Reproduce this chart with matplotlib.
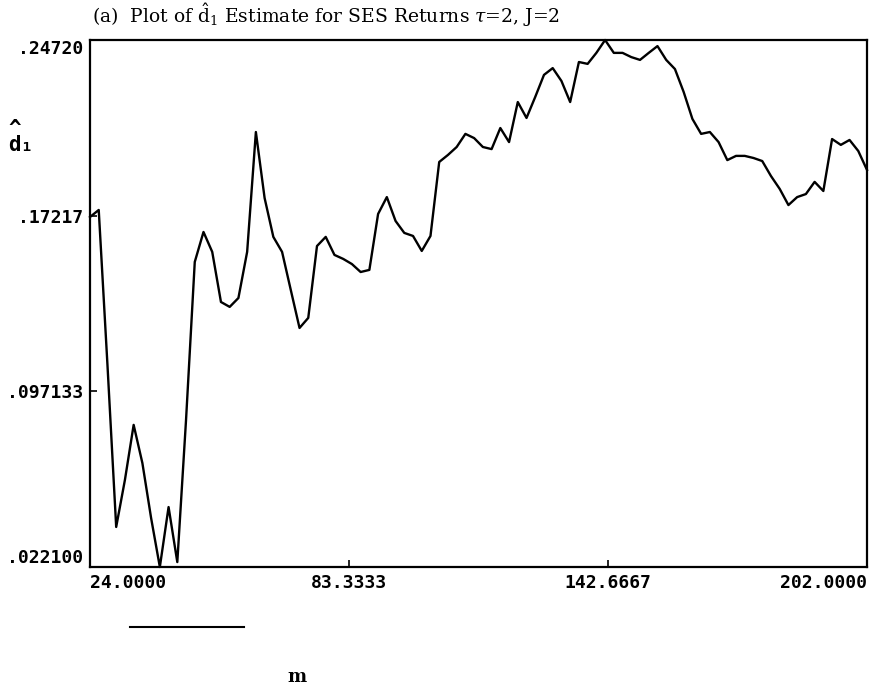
import numpy as np
import matplotlib.pyplot as plt
from matplotlib.lines import Line2D

plt.rcParams['mathtext.fontset'] = 'dejavuserif'

# bandwidth m runs from 24 to 202 in steps of 2
m = np.arange(24, 203, 2)
d1_hat = [
    0.1716, 0.1746, 0.1084, 0.0392, 0.0593, 0.0828, 0.0665, 0.0430, 0.0221, 0.0477,
    0.0242, 0.0849, 0.1524, 0.1652, 0.1567, 0.1353, 0.1332, 0.1370, 0.1567, 0.2079,
    0.1797, 0.1631, 0.1567, 0.1404, 0.1242, 0.1285, 0.1592, 0.1631, 0.1554, 0.1537,
    0.1515, 0.1481, 0.1490, 0.1729, 0.1801, 0.1699, 0.1648, 0.1635, 0.1571, 0.1635,
    0.1951, 0.1981, 0.2015, 0.2071, 0.2053, 0.2015, 0.2006, 0.2096, 0.2036, 0.2207,
    0.2139, 0.2229, 0.2323, 0.2352, 0.2297, 0.2207, 0.2378, 0.2370, 0.2417, 0.2472,
    0.2417, 0.2417, 0.2399, 0.2387, 0.2417, 0.2446, 0.2387, 0.2348, 0.2250, 0.2135,
    0.2071, 0.2079, 0.2036, 0.1959, 0.1977, 0.1977, 0.1968, 0.1955, 0.1891, 0.1836,
    0.1767, 0.1801, 0.1814, 0.1866, 0.1827, 0.2049, 0.2024, 0.2045, 0.1998, 0.1917,
]

xticks = [24.0, 83.3333, 142.6667, 202.0]
xlabels = ['24.0000', '83.3333', '142.6667', '202.0000']
yticks = [0.022100, 0.097133, 0.17217, 0.24720]
ylabels = ['.022100', '.097133', '.17217', '.24720']

fig = plt.figure(figsize=(8.71, 6.9), dpi=100)
ax = fig.add_axes([90 / 871, 123 / 690, 777 / 871, 527 / 690])

ax.plot(m, d1_hat, color='black', linewidth=1.7, clip_on=False)
ax.set_xlim(24, 202)
ax.set_ylim(0.0221, 0.2472)

for s in ax.spines.values():
    s.set_linewidth(1.6)

mono = {'family': 'DejaVu Sans Mono', 'weight': 'bold', 'size': 13}
ax.set_xticks(xticks)
ax.set_xticklabels(xlabels, fontdict=mono)
ax.set_yticks(yticks)
ax.set_yticklabels(ylabels, fontdict=mono)
ax.tick_params(direction='in', length=5, width=1.2, pad=5)

# keep end labels inside the frame like the original printout
xt = ax.get_xticklabels()
xt[0].set_ha('left')
xt[-1].set_ha('right')
yt = ax.get_yticklabels()
yt[0].set_va('bottom')
yt[-1].set_va('top')

fig.text(92 / 871, 1 - 15 / 690,
         r'(a)  Plot of $\hat{\mathrm{d}}_1$ Estimate for SES Returns $\tau$=2, J=2',
         family='DejaVu Serif', fontsize=13.5, va='center', ha='left')

# y label: d-hat sub 1 in the printer font, hat on its own line
fig.text(8 / 871, 1 - 137 / 690, '^\nd\u2081', family='DejaVu Sans Mono',
         weight='bold', fontsize=15, ha='left', va='center',
         multialignment='left', linespacing=0.75)

# short key line under the x axis
fig.add_artist(Line2D([130 / 871, 244 / 871], [1 - 627 / 690, 1 - 627 / 690],
                      color='black', linewidth=1.5))
fig.text(297 / 871, 1 - 677 / 690, 'm', family='DejaVu Serif', weight='bold',
         fontsize=13, ha='center', va='center')

fig.savefig('out.png', dpi=100)
